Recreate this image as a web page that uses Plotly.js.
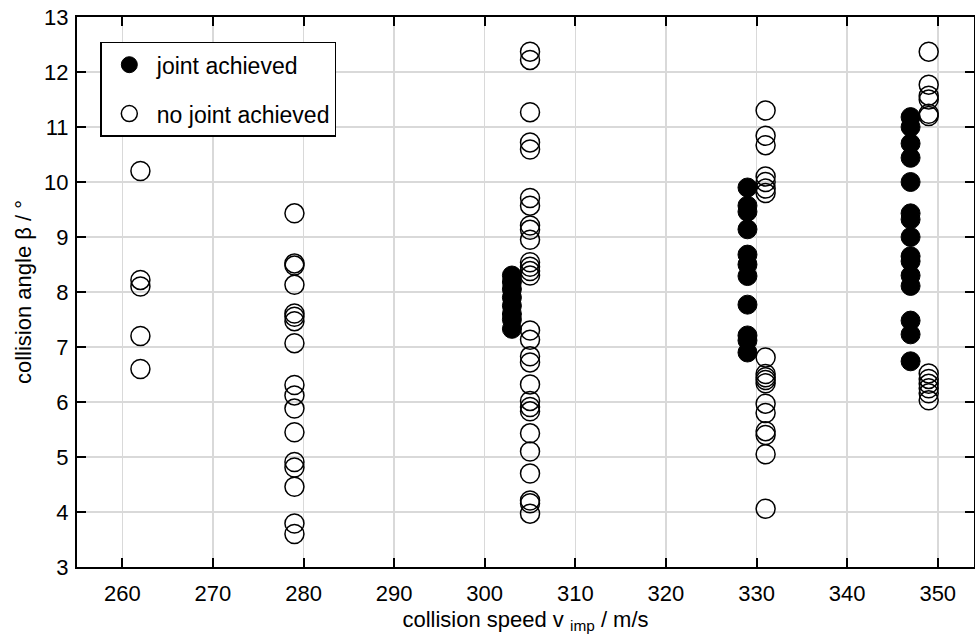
<!DOCTYPE html>
<html>
<head>
<meta charset="utf-8">
<script src="https://cdn.plot.ly/plotly-3.0.1.min.js"></script>
<style>html,body{margin:0;padding:0;background:#fff;}#chart{width:975px;height:644px;}</style>
</head>
<body>
<div id="chart"></div>
<script>
// joint achieved (filled)
const jointSpeed = [303,303,303,303,303,303,303,303,
  329,329,329,329,329,329,329,329,329,329,329,
  347,347,347,347,347,347,347,347,347,347,347,347,347,347,347];
const jointAngle = [8.3,8.18,8.05,7.9,7.75,7.6,7.5,7.33,
  9.9,9.57,9.46,9.14,8.68,8.5,8.29,7.77,7.21,7.12,6.9,
  11.18,11.0,10.7,10.44,10.0,9.43,9.32,9.0,8.65,8.56,8.3,8.11,7.48,7.23,6.74];

// no joint achieved (open)
const noJointSpeed = [262,262,262,262,262,
  279,279,279,279,279,279,279,279,279,279,279,279,279,279,279,279,279,
  305,305,305,305,305,305,305,305,305,305,305,305,305,305,305,305,305,305,305,305,305,305,305,305,305,305,305,305,
  331,331,331,331,331,331,331,331,331,331,331,331,331,331,331,331,331,331,
  349,349,349,349,349,349,349,349,349,349,349,349];
const noJointAngle = [10.2,8.22,8.1,7.2,6.6,
  9.43,8.52,8.48,8.13,7.61,7.55,7.47,7.07,6.31,6.12,5.88,5.45,4.91,4.81,4.46,3.79,3.6,
  12.37,12.22,11.27,10.72,10.59,9.71,9.57,9.21,9.13,8.95,8.54,8.46,8.38,8.3,7.3,7.13,6.83,6.72,6.32,6.02,5.91,5.83,5.43,5.1,4.7,4.21,4.16,3.97,
  11.3,10.84,10.67,10.1,10.0,9.88,9.8,6.81,6.51,6.45,6.4,6.34,5.97,5.8,5.47,5.4,5.05,4.06,
  12.37,11.77,11.57,11.5,11.24,11.2,6.52,6.42,6.33,6.25,6.16,6.03];

const xTicks = [260,270,280,290,300,310,320,330,340,350];
const yTicks = [3,4,5,6,7,8,9,10,11,12,13];

const font = "Arial, 'Liberation Sans', sans-serif";

const traces = [
  {
    x: jointSpeed, y: jointAngle, type: 'scatter', mode: 'markers',
    name: 'joint achieved', legendgroup: 'a',
    marker: {symbol: 'circle', size: 19, color: '#000', line: {color: '#000', width: 1}}
  },
  {
    x: noJointSpeed, y: noJointAngle, type: 'scatter', mode: 'markers',
    name: 'no joint achieved', legendgroup: 'b',
    marker: {symbol: 'circle-open', size: 19, color: '#000', line: {color: '#000', width: 1.5}}
  }
];

const axisCommon = {
  showline: true, linecolor: '#000', linewidth: 2, mirror: 'allticks',
  ticks: 'inside', ticklen: 9, tickwidth: 2, tickcolor: '#000',
  showgrid: true, gridcolor: '#d9d9d9', gridwidth: 1.5,
  zeroline: false,
  tickfont: {family: font, size: 22, color: '#000'}
};

const layout = {
  width: 975, height: 644,
  margin: {l: 77, r: 1, t: 17, b: 77},
  paper_bgcolor: '#fff', plot_bgcolor: '#fff',
  showlegend: true,
  xaxis: Object.assign({}, axisCommon, {
    range: [255, 354], tickvals: xTicks, ticktext: xTicks.map(String),
    ticklabelstandoff: 6,
    title: {text: 'collision speed v <sub>imp</sub> / m/s', font: {family: font, size: 22, color: '#000'}, standoff: 6}
  }),
  yaxis: Object.assign({}, axisCommon, {
    range: [3, 13], tickvals: yTicks, ticktext: yTicks.map(String),
    ticklabelstandoff: 2,
    title: {text: 'collision angle β / °', font: {family: font, size: 22, color: '#000'}, standoff: 6}
  }),
  legend: {
    x: 0.026, y: 0.955, xanchor: 'left', yanchor: 'top',
    bgcolor: '#fff', bordercolor: '#000', borderwidth: 1.5,
    font: {family: font, size: 23, color: '#000'},
    traceorder: 'grouped', tracegroupgap: 16, itemwidth: 45
  }
};

Plotly.newPlot('chart', traces, layout, {displayModeBar: false, staticPlot: true});
</script>
</body>
</html>
